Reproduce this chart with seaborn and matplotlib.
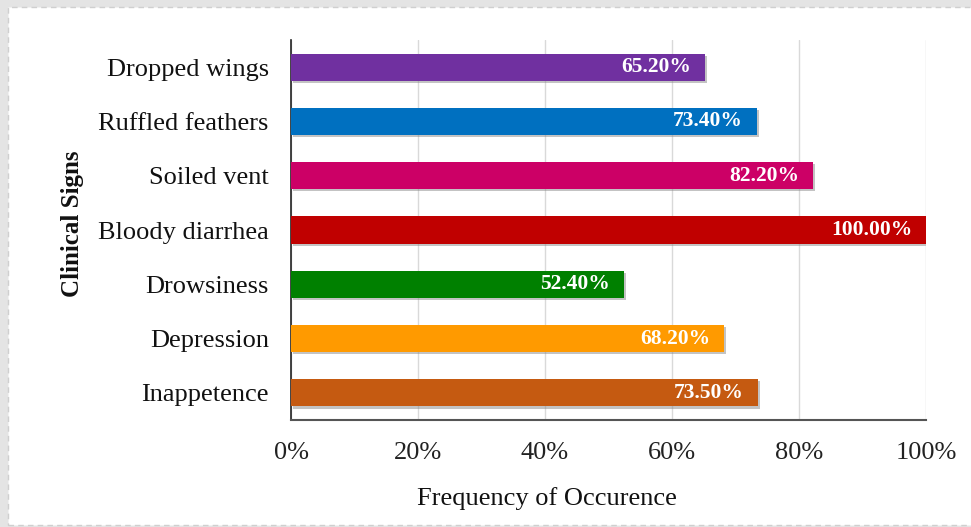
import matplotlib
matplotlib.use("Agg")
import matplotlib.pyplot as plt
import matplotlib.patheffects as pe
from matplotlib.patches import Rectangle
import seaborn as sns
import pandas as pd

signs = ["Dropped wings", "Ruffled feathers", "Soiled vent", "Bloody diarrhea",
         "Drowsiness", "Depression", "Inappetence"]
freq = [65.2, 73.4, 82.2, 100.0, 52.4, 68.2, 73.5]
colors = ["#7030a0", "#0070c0", "#cc0066", "#c00000", "#008000", "#ff9a00", "#c55a11"]
xticks = [0, 20, 40, 60, 80, 100]
xtick_labels = ["0%", "20%", "40%", "60%", "80%", "100%"]

df = pd.DataFrame({"sign": signs, "freq": freq})

sns.set_theme(style="white")
plt.rcParams["font.family"] = ["Liberation Serif", "DejaVu Serif"]

fig = plt.figure(figsize=(9.71, 5.27), dpi=100)
fig.patch.set_facecolor("#e4e4e4")
panel = Rectangle((8 / 971, 0.003), 1.2, 1 - 7 / 527 - 0.003, transform=fig.transFigure,
                  facecolor="white", edgecolor="#cfcfcf", linestyle=(0, (4, 3)),
                  linewidth=1, zorder=-10)
fig.patches.append(panel)

ax = fig.add_axes([291 / 971, 1 - 420 / 527, (926 - 291) / 971, (420 - 40) / 527])
ax.set_facecolor("none")
ax.set_zorder(1)

sns.barplot(data=df, y="sign", x="freq", hue="sign", palette=colors, legend=False,
            orient="h", width=0.5, saturation=1, linewidth=0, ax=ax, zorder=3)

for bar in ax.patches:
    bar.set_path_effects([pe.SimplePatchShadow(offset=(1.5, -1.5), shadow_rgbFace="#888888", alpha=0.5),
                          pe.Normal()])

for i, v in enumerate(freq):
    ax.text(v - 2.2, i, f"{v:.2f}%", ha="right", va="center", color="white",
            fontsize=15.5, fontweight="bold", zorder=5)

ax.set_xlim(0, 100)
ax.set_ylim(6.5, -0.5)
ax.set_xticks(xticks)
ax.set_xticklabels(xtick_labels)
ax.tick_params(axis="x", labelsize=19, pad=16, length=0, colors="#222222")
ax.tick_params(axis="y", labelsize=19, pad=16, length=0, colors="#111111")
ax.grid(axis="x", color="#d9d9d9", linewidth=1, zorder=0)
ax.grid(axis="y", visible=False)
for s in ["top", "right"]:
    ax.spines[s].set_visible(False)
ax.spines["left"].set_color("#222222")
ax.spines["bottom"].set_color("#555555")
ax.spines["left"].set_linewidth(1.2)
ax.spines["bottom"].set_linewidth(1.5)

ax.set_xlabel("Frequency of Occurence", fontsize=19, color="#111111")
ax.xaxis.set_label_coords((547 - 291) / 635, -(499 - 420) / 380)
ax.xaxis.label.set_va("center")
ax.set_ylabel("Clinical Signs", fontsize=18, fontweight="bold", color="#111111")
ax.yaxis.set_label_coords(-(291 - 73) / 635, (420 - 223.5) / 380)
ax.yaxis.label.set_va("center")

fig.savefig("out.png", dpi=100)
